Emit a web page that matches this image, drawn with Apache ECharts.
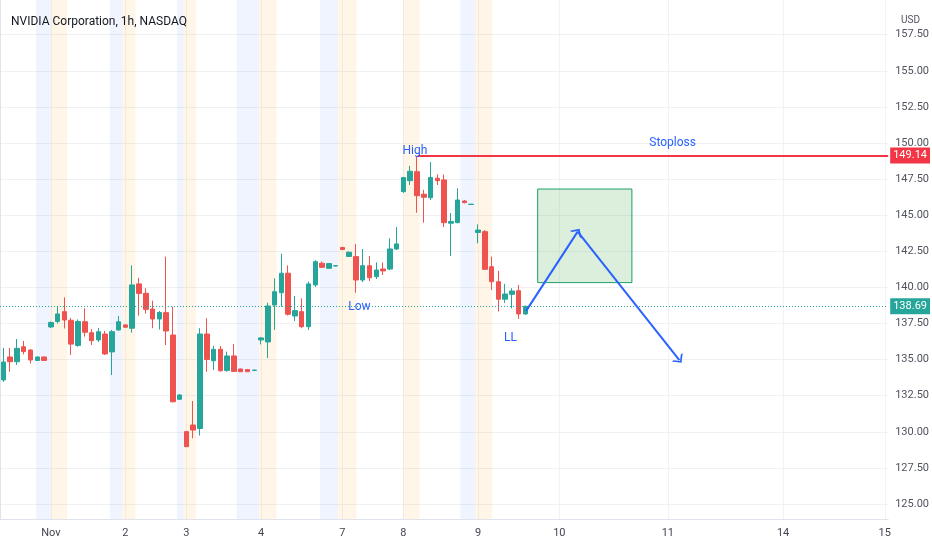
<!DOCTYPE html>
<html>
<head>
<meta charset="utf-8">
<title>NVIDIA Corporation, 1h, NASDAQ</title>
<script src="https://cdn.jsdelivr.net/npm/echarts@6/dist/echarts.min.js"></script>
<style>
html, body { margin: 0; padding: 0; background: #ffffff; }
#chart { width: 932px; height: 550px; }
</style>
</head>
<body>
<div id="chart"></div>
<script>
// hourly bars, one slot each (extended hours included)
var slotCount = 131;
var openP = [133.59, 135.18, 134.85, 135.89, 135.66, 134.94, 135.18, 137.26, 137.64, 138.32,
  137.72, 135.98, 137.62, 136.86, 136.36, 136.77, 135.53, 137.05, 137.40, 137.17,
  140.24, 139.59, 138.50, 137.81, 138.25, 136.70, 132.25, 130.01, 130.47, 130.23,
  136.77, 134.92, 135.71, 134.25, 135.25, 134.35, 134.31, 134.25, 136.36, 136.22,
  138.78, 139.63, 140.98, 138.02, 138.32, 137.28, 140.17, 141.67, 141.32, 141.48,
  142.76, 142.14, 142.13, 140.51, 141.50, 140.74, 141.27, 141.27, 142.66, 146.63,
  147.39, 148.01, 146.45, 146.21, 147.56, 147.44, 144.44, 144.48, 145.98, 145.74,
  143.80, 143.86, 141.43, 140.39, 139.18, 139.52, 139.77, 138.16];
var closeP = [134.83, 134.85, 135.78, 135.55, 134.97, 135.18, 134.94, 137.57, 138.16, 137.74,
  136.07, 137.64, 136.89, 136.31, 136.93, 135.39, 136.93, 137.62, 137.24, 140.17,
  139.58, 138.48, 137.81, 138.26, 136.98, 132.08, 132.55, 128.97, 130.12, 136.77,
  135.01, 135.71, 134.23, 135.25, 134.18, 134.16, 134.16, 134.27, 136.50, 138.71,
  139.70, 140.98, 138.14, 138.39, 137.28, 140.24, 141.78, 141.39, 141.65, 141.50,
  142.62, 142.43, 140.51, 141.50, 140.67, 141.20, 141.14, 142.66, 143.01, 147.60,
  148.04, 146.35, 146.24, 147.60, 147.39, 144.48, 144.56, 146.05, 145.87, 145.76,
  143.97, 141.25, 140.39, 139.18, 139.54, 139.75, 138.16, 138.69];
var lowP = [133.45, 134.16, 134.63, 135.36, 134.73, 134.90, 134.90, 137.19, 137.50, 137.15,
  135.32, 135.89, 136.59, 136.01, 136.22, 135.32, 133.93, 137.01, 137.20, 136.86,
  138.05, 138.19, 137.17, 137.08, 136.01, 132.03, 132.20, 128.95, 129.55, 129.74,
  134.16, 134.28, 134.16, 134.16, 134.14, 134.14, 134.14, 134.20, 136.05, 135.11,
  137.05, 138.66, 138.05, 137.67, 137.17, 137.05, 140.03, 141.34, 141.31, 141.45,
  142.58, 142.10, 139.63, 140.37, 140.44, 140.58, 140.86, 141.20, 142.59, 146.54,
  147.09, 145.17, 144.48, 146.05, 147.09, 144.18, 142.17, 144.44, 145.81, 145.72,
  143.05, 141.20, 139.82, 138.32, 138.92, 138.55, 137.81, 138.09];
var highP = [135.80, 135.80, 136.43, 136.29, 135.73, 135.22, 135.22, 137.64, 138.71, 139.31,
  137.88, 137.78, 138.55, 137.12, 137.19, 136.98, 137.05, 138.02, 137.43, 141.52,
  140.65, 139.94, 139.08, 138.37, 142.13, 138.66, 132.60, 130.06, 132.13, 137.17,
  137.86, 135.94, 135.94, 135.55, 136.08, 134.38, 134.35, 134.30, 136.57, 138.94,
  140.63, 142.33, 141.52, 139.40, 139.24, 140.40, 141.88, 141.79, 141.69, 141.53,
  142.80, 142.49, 143.01, 142.66, 142.17, 141.74, 141.72, 143.40, 144.18, 147.65,
  148.41, 149.03, 146.75, 148.68, 147.83, 147.82, 145.15, 146.86, 146.05, 145.78,
  144.36, 143.97, 142.13, 141.14, 140.24, 139.94, 140.17, 138.72];

// day labels on the time scale
var dayLabels = ['Nov', '2', '3', '4', '7', '8', '9', '10', '11', '14', '15'];
var daySlots = [7, 18, 27, 38, 50, 59, 70, 82, 98, 115, 130];

// price scale
var priceTicks = [125, 127.5, 130, 132.5, 135, 137.5, 140, 142.5, 145, 147.5, 150, 152.5, 155, 157.5];
var yMin = 123.96;
var yMax = 159.90;

// extended sessions (slot units)
var postBands = [[5.3, 7.5], [16.2, 18], [26.1, 27.1], [34.9, 38.2], [47.2, 49.8], [67.9, 70.1]];
var preBands = [[7.5, 9.9], [18, 20], [27.1, 28.9], [38.2, 40.8], [49.8, 52.6], [59.4, 61.9], [70.1, 72.6]];

// drawings
var stopPrice = 149.14;
var stopStart = 61.6;
var lastPrice = 138.69;
var targetBox = [[79.3, 146.81], [93.2, 140.33]];
var arrowPts = [[77.6, 138.37], [85.2, 143.86], [100.2, 134.97]];
var notes = [
  { text: 'High', at: [61.2, 149.45] },
  { text: 'Low', at: [53.0, 138.64] },
  { text: 'LL', at: [75.3, 136.5] },
  { text: 'Stoploss', at: [99.2, 150.0] }
];

var FONT = "'Liberation Sans Narrow', Roboto, sans-serif";
var UP = '#26a69a';
var DOWN = '#ef5350';
var BLUE = '#2962ff';
var chevron = 'path://M0,10L10,0L20,10L16.6,10L10,3.4L3.4,10Z';

var dom = document.getElementById('chart');
var myChart = echarts.init(dom);

var categories = [];
for (var i = 0; i < slotCount; i++) {
  categories.push(String(i));
}
var candleData = openP.map(function (o, k) {
  return [o, closeP[k], lowP[k], highP[k]];
});

var bandData = [];
postBands.forEach(function (b) {
  bandData.push([{ xAxis: b[0], itemStyle: { color: 'rgba(41,98,255,0.07)' } }, { xAxis: b[1] }]);
});
preBands.forEach(function (b) {
  bandData.push([{ xAxis: b[0], itemStyle: { color: 'rgba(255,152,0,0.09)' } }, { xAxis: b[1] }]);
});

var arrowLines = [];
for (var a = 0; a < arrowPts.length - 1; a++) {
  arrowLines.push([
    { coord: arrowPts[a], symbol: 'none', lineStyle: { color: BLUE, width: 2, type: 'solid' } },
    { coord: arrowPts[a + 1], symbol: chevron, symbolSize: [14, 7] }
  ]);
}

var option = {
  animation: false,
  backgroundColor: '#ffffff',
  textStyle: { fontFamily: FONT },
  title: [
    {
      text: 'NVIDIA Corporation, 1h, NASDAQ',
      left: 6, top: 11,
      textStyle: { fontSize: 12, fontWeight: 'normal', color: '#131722', fontFamily: FONT }
    },
    {
      text: 'USD',
      left: 896, top: 10,
      textStyle: { fontSize: 10, fontWeight: 'normal', color: '#50535e', fontFamily: FONT }
    }
  ],
  grid: { left: 0, right: 43, top: 0, bottom: 31 },
  xAxis: [
    {
      type: 'category',
      data: categories,
      boundaryGap: true,
      axisLine: { lineStyle: { color: '#e0e3eb' } },
      axisTick: { show: false },
      axisLabel: {
        interval: 0,
        margin: 9,
        color: '#434651',
        fontSize: 11,
        fontFamily: FONT,
        formatter: function (v, idx) {
          var k = daySlots.indexOf(idx);
          return k < 0 ? '' : dayLabels[k];
        }
      },
      splitLine: { show: false }
    },
    {
      type: 'value',
      min: 0,
      max: slotCount,
      position: 'top',
      axisLine: { show: false },
      axisTick: { show: false, customValues: daySlots.map(function (s) { return s + 0.5; }) },
      axisLabel: { show: false },
      splitLine: { show: true, lineStyle: { color: '#f0f2f6' } }
    }
  ],
  yAxis: {
    type: 'value',
    position: 'right',
    min: yMin,
    max: yMax,
    axisLine: { show: true, lineStyle: { color: '#e0e3eb' } },
    axisTick: { show: false, customValues: priceTicks },
    axisLabel: {
      customValues: priceTicks,
      margin: 7,
      color: '#50535e',
      fontSize: 11,
      fontFamily: FONT,
      formatter: function (v) { return v.toFixed(2); }
    },
    splitLine: { show: true, lineStyle: { color: '#eef0f4' } }
  },
  series: [
    {
      name: 'sessions',
      type: 'line',
      xAxisIndex: 1,
      yAxisIndex: 0,
      data: [],
      silent: true,
      markArea: { silent: true, data: bandData }
    },
    {
      name: 'NVDA',
      type: 'candlestick',
      xAxisIndex: 0,
      yAxisIndex: 0,
      data: candleData,
      barWidth: 5,
      z: 3,
      itemStyle: {
        color: UP,
        color0: DOWN,
        borderColor: UP,
        borderColor0: DOWN,
        borderWidth: 1
      }
    },
    {
      name: 'drawings',
      type: 'line',
      xAxisIndex: 1,
      yAxisIndex: 0,
      data: [],
      clip: false,
      silent: true,
      markArea: {
        silent: true,
        data: [[
          { coord: targetBox[0], itemStyle: { color: 'rgba(76,175,80,0.2)', borderColor: '#1e9e6a', borderWidth: 1 } },
          { coord: targetBox[1] }
        ]]
      },
      markLine: {
        silent: true,
        symbol: ['none', 'none'],
        label: { show: false },
        data: [
          {
            yAxis: lastPrice,
            lineStyle: { color: UP, width: 1, type: [1, 2] },
            label: {
              show: true, position: 'end', distance: 2,
              formatter: lastPrice.toFixed(2),
              backgroundColor: UP, color: '#ffffff',
              padding: [3, 3, 2, 3], fontSize: 11, fontFamily: FONT
            }
          },
          [
            {
              coord: [stopStart, stopPrice],
              lineStyle: { color: '#f23645', width: 2, type: 'solid' },
              label: {
                show: true, position: 'end', distance: 2,
                formatter: stopPrice.toFixed(2),
                backgroundColor: '#f23645', color: '#ffffff',
                padding: [3, 3, 2, 3], fontSize: 11, fontFamily: FONT
              }
            },
            { coord: [slotCount, stopPrice] }
          ]
        ].concat(arrowLines)
      },
      markPoint: {
        silent: true,
        symbol: 'rect',
        symbolSize: 1,
        itemStyle: { color: 'rgba(0,0,0,0)' },
        label: { show: true, position: 'inside', color: BLUE, fontSize: 12, fontFamily: FONT, formatter: '{b}' },
        data: notes.map(function (n) {
          return { name: n.text, coord: n.at, value: 0 };
        })
      }
    }
  ]
};

if (option && typeof option === 'object') {
  myChart.setOption(option, true);
}
</script>
</body>
</html>
